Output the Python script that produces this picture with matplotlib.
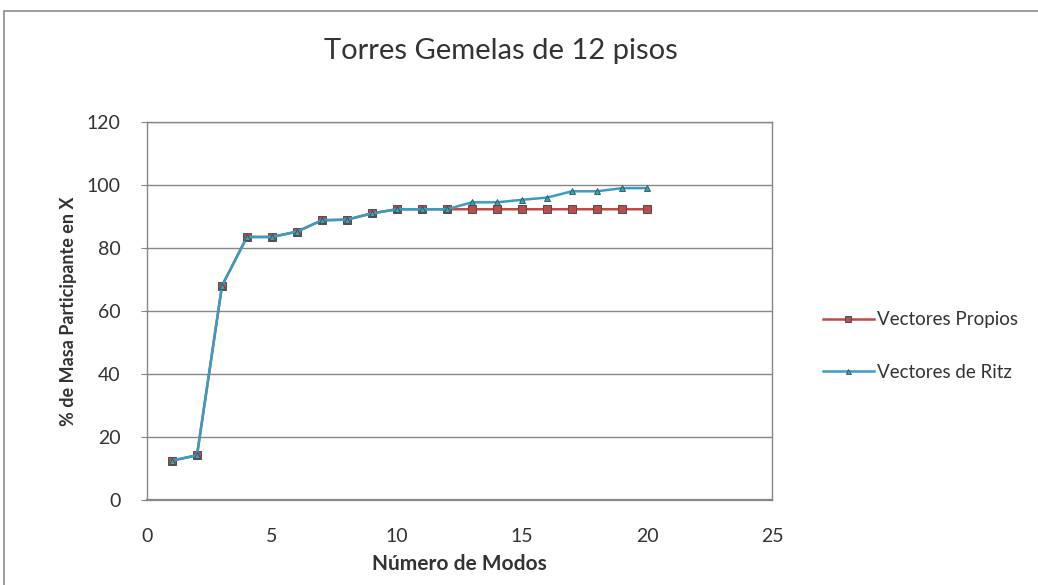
import matplotlib
matplotlib.use("Agg")
import matplotlib.pyplot as plt
from matplotlib.patches import Rectangle

# ============================================================
# DATA
# ============================================================

modos = list(range(1, 21))

vectores_propios = [12.5, 14.2, 68.0, 83.5, 83.5, 85.2, 88.8, 89.0, 91.0, 92.3,
                    92.3, 92.3, 92.3, 92.3, 92.3, 92.3, 92.3, 92.3, 92.3, 92.3]

vectores_ritz = [12.5, 14.2, 68.0, 83.5, 83.5, 85.2, 88.8, 89.0, 91.0, 92.3,
                 92.3, 92.3, 94.5, 94.5, 95.3, 96.0, 98.0, 98.0, 99.0, 99.0]

x_ticks = [0, 5, 10, 15, 20, 25]
y_ticks = [0, 20, 40, 60, 80, 100, 120]

# ============================================================
# STYLE
# ============================================================

plt.rcParams["font.family"] = ["Lato", "DejaVu Sans"]

GRID_COLOR = "#868686"
TEXT_COLOR = "#333333"
RED = "#BE4B48"
CYAN = "#3A9CC4"

fig = plt.figure(figsize=(10.38, 5.85), dpi=100)
fig.patch.set_facecolor("white")

# outer chart border
fig.patches.append(
    Rectangle((4 / 1038, -0.05), 1.1, 1 - 11 / 585 + 0.05,
              transform=fig.transFigure, fill=False,
              edgecolor="#8c8c8c", linewidth=1.2)
)

ax = fig.add_axes([147 / 1038, 1 - 500 / 585, (772 - 147) / 1038, (500 - 122) / 585])

ax.plot(modos, vectores_propios, color=RED, linewidth=1.8,
        marker="s", markersize=5.5, markerfacecolor=RED,
        markeredgecolor="#4a4f5a", markeredgewidth=0.7,
        label="Vectores Propios")

ax.plot(modos, vectores_ritz, color=CYAN, linewidth=1.8,
        marker="^", markersize=4.5, markerfacecolor="#3aa6a0",
        markeredgecolor="#2a4f66", markeredgewidth=0.6,
        label="Vectores de Ritz")

ax.set_xlim(0, 25)
ax.set_ylim(0, 120)
ax.set_xticks(x_ticks)
ax.set_yticks(y_ticks)

ax.yaxis.grid(True, color=GRID_COLOR, linewidth=1.0)
ax.set_axisbelow(True)

for spine in ax.spines.values():
    spine.set_color(GRID_COLOR)
    spine.set_linewidth(1.0)
ax.spines["bottom"].set_linewidth(1.6)

ax.tick_params(axis="y", length=4, color=GRID_COLOR, labelsize=14,
               labelcolor=TEXT_COLOR, pad=15)
ax.tick_params(axis="x", length=0, labelsize=14, labelcolor=TEXT_COLOR, pad=20)

ax.set_xlabel("Número de Modos", fontsize=15, fontweight="bold",
              color=TEXT_COLOR, labelpad=7)
ax.set_ylabel("% de Masa Participante en X", fontsize=13, fontweight="bold",
              color=TEXT_COLOR, labelpad=7)

fig.text(501 / 1038, 1 - 51 / 585, "Torres Gemelas de 12 pisos", ha="center",
         va="center", fontsize=21, color=TEXT_COLOR)

fig.legend(loc="center left", bbox_to_anchor=(806 / 1038, 1 - 346 / 585),
           frameon=False, fontsize=13.5, labelspacing=1.9,
           handlelength=2.7, handletextpad=0.2, labelcolor=TEXT_COLOR,
           markerscale=0.8)

fig.savefig("out.png", dpi=100)
